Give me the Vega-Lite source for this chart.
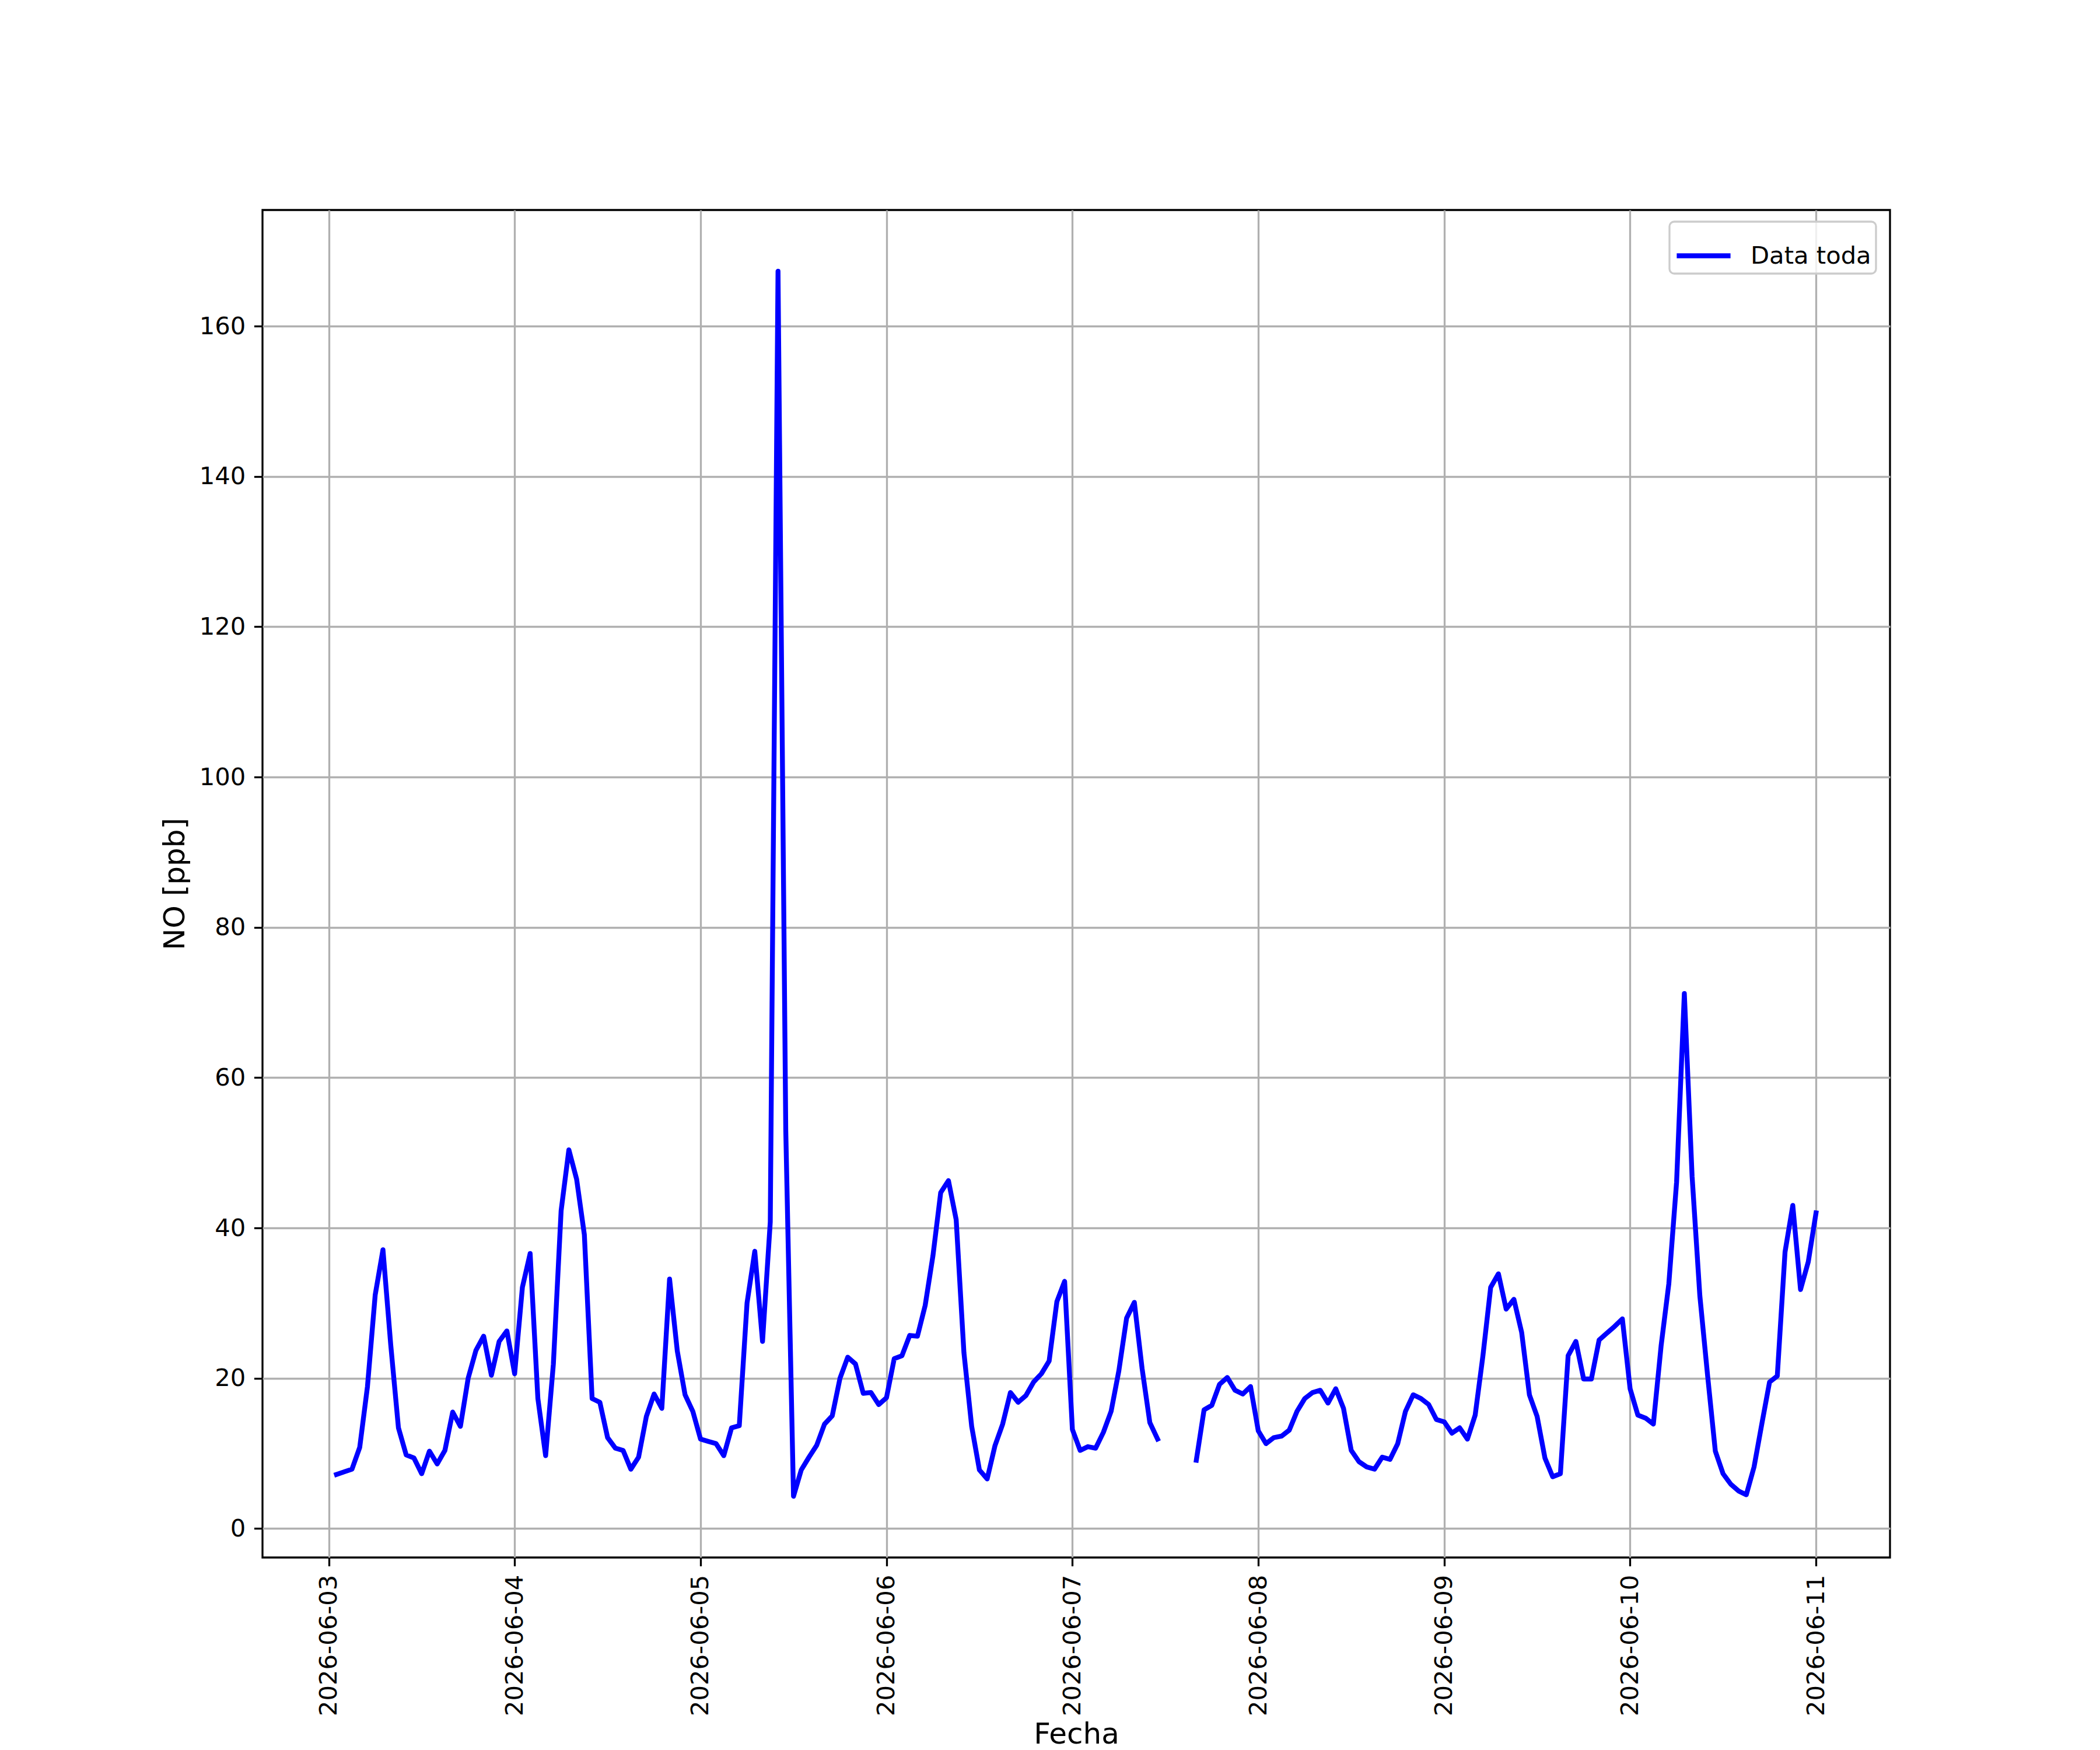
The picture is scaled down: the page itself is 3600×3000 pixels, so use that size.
{
  "$schema": "https://vega.github.io/schema/vega-lite/v6.json",
  "background": "white",
  "autosize": {"type": "none"},
  "padding": {"left": 450, "top": 360, "right": 360, "bottom": 330},
  "width": 2790,
  "height": 2310,
  "config": {
    "font": "DejaVu Sans",
    "view": {"stroke": "black", "strokeWidth": 3.3},
    "axis": {
      "domain": false,
      "grid": true,
      "gridColor": "#b0b0b0",
      "gridWidth": 3.3,
      "tickColor": "black",
      "tickWidth": 3.3,
      "tickSize": 14.6,
      "labelPadding": 14.6,
      "labelFont": "DejaVu Sans",
      "labelFontSize": 41.7,
      "labelColor": "black",
      "labelLimit": 1000,
      "titleFont": "DejaVu Sans",
      "titleFontSize": 50,
      "titleFontWeight": "normal",
      "titleColor": "black",
      "titlePadding": 16
    },
    "legend": {
      "orient": "none",
      "legendX": 2412,
      "legendY": 20,
      "labelFont": "DejaVu Sans",
      "labelFontSize": 41.7,
      "labelColor": "black",
      "labelLimit": 1000,
      "labelOffset": 30,
      "symbolType": "stroke",
      "symbolSize": 8500,
      "symbolStrokeWidth": 8.33,
      "strokeColor": "#cccccc",
      "strokeWidth": 3.3,
      "fillColor": "rgba(255,255,255,0.8)",
      "cornerRadius": 8,
      "padding": 8
    }
  },
  "data": {
    "values": [
      {"fecha": "2026-06-03T01:00", "no": 7.2},
      {"fecha": "2026-06-03T02:00", "no": 7.55},
      {"fecha": "2026-06-03T03:00", "no": 7.9},
      {"fecha": "2026-06-03T04:00", "no": 10.8},
      {"fecha": "2026-06-03T05:00", "no": 18.9},
      {"fecha": "2026-06-03T06:00", "no": 31.1},
      {"fecha": "2026-06-03T07:00", "no": 37.1},
      {"fecha": "2026-06-03T08:00", "no": 24.5},
      {"fecha": "2026-06-03T09:00", "no": 13.4},
      {"fecha": "2026-06-03T10:00", "no": 9.8},
      {"fecha": "2026-06-03T11:00", "no": 9.4},
      {"fecha": "2026-06-03T12:00", "no": 7.3},
      {"fecha": "2026-06-03T13:00", "no": 10.3},
      {"fecha": "2026-06-03T14:00", "no": 8.6},
      {"fecha": "2026-06-03T15:00", "no": 10.4},
      {"fecha": "2026-06-03T16:00", "no": 15.5},
      {"fecha": "2026-06-03T17:00", "no": 13.6},
      {"fecha": "2026-06-03T18:00", "no": 20.0},
      {"fecha": "2026-06-03T19:00", "no": 23.7},
      {"fecha": "2026-06-03T20:00", "no": 25.6},
      {"fecha": "2026-06-03T21:00", "no": 20.4},
      {"fecha": "2026-06-03T22:00", "no": 24.9},
      {"fecha": "2026-06-03T23:00", "no": 26.3},
      {"fecha": "2026-06-04T00:00", "no": 20.6},
      {"fecha": "2026-06-04T01:00", "no": 32.1},
      {"fecha": "2026-06-04T02:00", "no": 36.6},
      {"fecha": "2026-06-04T03:00", "no": 17.3},
      {"fecha": "2026-06-04T04:00", "no": 9.7},
      {"fecha": "2026-06-04T05:00", "no": 21.9},
      {"fecha": "2026-06-04T06:00", "no": 42.3},
      {"fecha": "2026-06-04T07:00", "no": 50.4},
      {"fecha": "2026-06-04T08:00", "no": 46.5},
      {"fecha": "2026-06-04T09:00", "no": 39.1},
      {"fecha": "2026-06-04T10:00", "no": 17.3},
      {"fecha": "2026-06-04T11:00", "no": 16.8},
      {"fecha": "2026-06-04T12:00", "no": 12.1},
      {"fecha": "2026-06-04T13:00", "no": 10.7},
      {"fecha": "2026-06-04T14:00", "no": 10.4},
      {"fecha": "2026-06-04T15:00", "no": 7.9},
      {"fecha": "2026-06-04T16:00", "no": 9.5},
      {"fecha": "2026-06-04T17:00", "no": 14.9},
      {"fecha": "2026-06-04T18:00", "no": 17.9},
      {"fecha": "2026-06-04T19:00", "no": 16.0},
      {"fecha": "2026-06-04T20:00", "no": 33.2},
      {"fecha": "2026-06-04T21:00", "no": 23.6},
      {"fecha": "2026-06-04T22:00", "no": 17.8},
      {"fecha": "2026-06-04T23:00", "no": 15.6},
      {"fecha": "2026-06-05T00:00", "no": 11.9},
      {"fecha": "2026-06-05T01:00", "no": 11.6},
      {"fecha": "2026-06-05T02:00", "no": 11.3},
      {"fecha": "2026-06-05T03:00", "no": 9.7},
      {"fecha": "2026-06-05T04:00", "no": 13.4},
      {"fecha": "2026-06-05T05:00", "no": 13.7},
      {"fecha": "2026-06-05T06:00", "no": 30.0},
      {"fecha": "2026-06-05T07:00", "no": 36.9},
      {"fecha": "2026-06-05T08:00", "no": 24.9},
      {"fecha": "2026-06-05T09:00", "no": 40.8},
      {"fecha": "2026-06-05T10:00", "no": 167.3},
      {"fecha": "2026-06-05T11:00", "no": 53.0},
      {"fecha": "2026-06-05T12:00", "no": 4.3},
      {"fecha": "2026-06-05T13:00", "no": 7.8},
      {"fecha": "2026-06-05T14:00", "no": 9.5},
      {"fecha": "2026-06-05T15:00", "no": 11.1},
      {"fecha": "2026-06-05T16:00", "no": 13.9},
      {"fecha": "2026-06-05T17:00", "no": 15.0},
      {"fecha": "2026-06-05T18:00", "no": 20.0},
      {"fecha": "2026-06-05T19:00", "no": 22.8},
      {"fecha": "2026-06-05T20:00", "no": 21.9},
      {"fecha": "2026-06-05T21:00", "no": 18.0},
      {"fecha": "2026-06-05T22:00", "no": 18.1},
      {"fecha": "2026-06-05T23:00", "no": 16.5},
      {"fecha": "2026-06-06T00:00", "no": 17.4},
      {"fecha": "2026-06-06T01:00", "no": 22.6},
      {"fecha": "2026-06-06T02:00", "no": 23.0},
      {"fecha": "2026-06-06T03:00", "no": 25.7},
      {"fecha": "2026-06-06T04:00", "no": 25.6},
      {"fecha": "2026-06-06T05:00", "no": 29.7},
      {"fecha": "2026-06-06T06:00", "no": 36.3},
      {"fecha": "2026-06-06T07:00", "no": 44.7},
      {"fecha": "2026-06-06T08:00", "no": 46.3},
      {"fecha": "2026-06-06T09:00", "no": 41.1},
      {"fecha": "2026-06-06T10:00", "no": 23.4},
      {"fecha": "2026-06-06T11:00", "no": 13.6},
      {"fecha": "2026-06-06T12:00", "no": 7.8},
      {"fecha": "2026-06-06T13:00", "no": 6.6},
      {"fecha": "2026-06-06T14:00", "no": 11.0},
      {"fecha": "2026-06-06T15:00", "no": 13.9},
      {"fecha": "2026-06-06T16:00", "no": 18.1},
      {"fecha": "2026-06-06T17:00", "no": 16.8},
      {"fecha": "2026-06-06T18:00", "no": 17.7},
      {"fecha": "2026-06-06T19:00", "no": 19.5},
      {"fecha": "2026-06-06T20:00", "no": 20.6},
      {"fecha": "2026-06-06T21:00", "no": 22.3},
      {"fecha": "2026-06-06T22:00", "no": 30.2},
      {"fecha": "2026-06-06T23:00", "no": 32.9},
      {"fecha": "2026-06-07T00:00", "no": 13.2},
      {"fecha": "2026-06-07T01:00", "no": 10.4},
      {"fecha": "2026-06-07T02:00", "no": 10.9},
      {"fecha": "2026-06-07T03:00", "no": 10.7},
      {"fecha": "2026-06-07T04:00", "no": 12.8},
      {"fecha": "2026-06-07T05:00", "no": 15.6},
      {"fecha": "2026-06-07T06:00", "no": 21.0},
      {"fecha": "2026-06-07T07:00", "no": 28.0},
      {"fecha": "2026-06-07T08:00", "no": 30.1},
      {"fecha": "2026-06-07T09:00", "no": 21.3},
      {"fecha": "2026-06-07T10:00", "no": 14.1},
      {"fecha": "2026-06-07T11:00", "no": 11.9},
      {"fecha": "2026-06-07T12:00", "no": null},
      {"fecha": "2026-06-07T13:00", "no": null},
      {"fecha": "2026-06-07T14:00", "no": null},
      {"fecha": "2026-06-07T15:00", "no": null},
      {"fecha": "2026-06-07T16:00", "no": 9.1},
      {"fecha": "2026-06-07T17:00", "no": 15.8},
      {"fecha": "2026-06-07T18:00", "no": 16.4},
      {"fecha": "2026-06-07T19:00", "no": 19.2},
      {"fecha": "2026-06-07T20:00", "no": 20.1},
      {"fecha": "2026-06-07T21:00", "no": 18.4},
      {"fecha": "2026-06-07T22:00", "no": 17.9},
      {"fecha": "2026-06-07T23:00", "no": 18.9},
      {"fecha": "2026-06-08T00:00", "no": 13.0},
      {"fecha": "2026-06-08T01:00", "no": 11.3},
      {"fecha": "2026-06-08T02:00", "no": 12.1},
      {"fecha": "2026-06-08T03:00", "no": 12.3},
      {"fecha": "2026-06-08T04:00", "no": 13.1},
      {"fecha": "2026-06-08T05:00", "no": 15.6},
      {"fecha": "2026-06-08T06:00", "no": 17.3},
      {"fecha": "2026-06-08T07:00", "no": 18.1},
      {"fecha": "2026-06-08T08:00", "no": 18.4},
      {"fecha": "2026-06-08T09:00", "no": 16.7},
      {"fecha": "2026-06-08T10:00", "no": 18.6},
      {"fecha": "2026-06-08T11:00", "no": 16.0},
      {"fecha": "2026-06-08T12:00", "no": 10.4},
      {"fecha": "2026-06-08T13:00", "no": 8.9},
      {"fecha": "2026-06-08T14:00", "no": 8.2},
      {"fecha": "2026-06-08T15:00", "no": 7.9},
      {"fecha": "2026-06-08T16:00", "no": 9.5},
      {"fecha": "2026-06-08T17:00", "no": 9.2},
      {"fecha": "2026-06-08T18:00", "no": 11.3},
      {"fecha": "2026-06-08T19:00", "no": 15.6},
      {"fecha": "2026-06-08T20:00", "no": 17.8},
      {"fecha": "2026-06-08T21:00", "no": 17.3},
      {"fecha": "2026-06-08T22:00", "no": 16.5},
      {"fecha": "2026-06-08T23:00", "no": 14.5},
      {"fecha": "2026-06-09T00:00", "no": 14.2},
      {"fecha": "2026-06-09T01:00", "no": 12.7},
      {"fecha": "2026-06-09T02:00", "no": 13.4},
      {"fecha": "2026-06-09T03:00", "no": 11.9},
      {"fecha": "2026-06-09T04:00", "no": 15.1},
      {"fecha": "2026-06-09T05:00", "no": 23.0},
      {"fecha": "2026-06-09T06:00", "no": 32.1},
      {"fecha": "2026-06-09T07:00", "no": 33.9},
      {"fecha": "2026-06-09T08:00", "no": 29.2},
      {"fecha": "2026-06-09T09:00", "no": 30.5},
      {"fecha": "2026-06-09T10:00", "no": 26.1},
      {"fecha": "2026-06-09T11:00", "no": 17.8},
      {"fecha": "2026-06-09T12:00", "no": 14.9},
      {"fecha": "2026-06-09T13:00", "no": 9.4},
      {"fecha": "2026-06-09T14:00", "no": 6.9},
      {"fecha": "2026-06-09T15:00", "no": 7.3},
      {"fecha": "2026-06-09T16:00", "no": 23.0},
      {"fecha": "2026-06-09T17:00", "no": 24.9},
      {"fecha": "2026-06-09T18:00", "no": 19.9},
      {"fecha": "2026-06-09T19:00", "no": 19.9},
      {"fecha": "2026-06-09T20:00", "no": 25.1},
      {"fecha": "2026-06-09T21:00", "no": 26.0},
      {"fecha": "2026-06-09T22:00", "no": 26.9},
      {"fecha": "2026-06-09T23:00", "no": 27.9},
      {"fecha": "2026-06-10T00:00", "no": 18.6},
      {"fecha": "2026-06-10T01:00", "no": 15.1},
      {"fecha": "2026-06-10T02:00", "no": 14.7},
      {"fecha": "2026-06-10T03:00", "no": 13.9},
      {"fecha": "2026-06-10T04:00", "no": 24.3},
      {"fecha": "2026-06-10T05:00", "no": 32.6},
      {"fecha": "2026-06-10T06:00", "no": 46.1},
      {"fecha": "2026-06-10T07:00", "no": 71.2},
      {"fecha": "2026-06-10T08:00", "no": 46.9},
      {"fecha": "2026-06-10T09:00", "no": 31.0},
      {"fecha": "2026-06-10T10:00", "no": 20.4},
      {"fecha": "2026-06-10T11:00", "no": 10.3},
      {"fecha": "2026-06-10T12:00", "no": 7.3},
      {"fecha": "2026-06-10T13:00", "no": 5.9},
      {"fecha": "2026-06-10T14:00", "no": 5.0},
      {"fecha": "2026-06-10T15:00", "no": 4.5},
      {"fecha": "2026-06-10T16:00", "no": 8.2},
      {"fecha": "2026-06-10T17:00", "no": 13.9},
      {"fecha": "2026-06-10T18:00", "no": 19.5},
      {"fecha": "2026-06-10T19:00", "no": 20.3},
      {"fecha": "2026-06-10T20:00", "no": 36.8},
      {"fecha": "2026-06-10T21:00", "no": 43.0},
      {"fecha": "2026-06-10T22:00", "no": 31.8},
      {"fecha": "2026-06-10T23:00", "no": 35.5},
      {"fecha": "2026-06-11T00:00", "no": 42.0}
    ]
  },
  "mark": {
    "type": "line",
    "strokeWidth": 8.33,
    "strokeJoin": "round",
    "strokeCap": "square",
    "clip": true,
    "invalid": "break-paths-filter-domains"
  },
  "encoding": {
    "x": {
      "field": "fecha",
      "type": "temporal",
      "title": "Fecha",
      "scale": {
        "domain": [
          {"year": 2026, "month": 6, "date": 2, "hours": 15, "minutes": 27},
          {"year": 2026, "month": 6, "date": 11, "hours": 9, "minutes": 33}
        ],
        "nice": false
      },
      "axis": {
        "format": "%Y-%m-%d",
        "labelAngle": 270,
        "tickCount": {"interval": "day", "step": 1},
        "titleY": 318,
        "titleBaseline": "alphabetic"
      }
    },
    "y": {
      "field": "no",
      "type": "quantitative",
      "title": "NO [ppb]",
      "scale": {"domain": [-3.85, 175.45], "nice": false, "zero": false},
      "axis": {"values": [0, 20, 40, 60, 80, 100, 120, 140, 160]}
    },
    "color": {
      "datum": "Data toda",
      "type": "nominal",
      "scale": {"range": ["#0000ff"]},
      "legend": {"title": null}
    }
  }
}
